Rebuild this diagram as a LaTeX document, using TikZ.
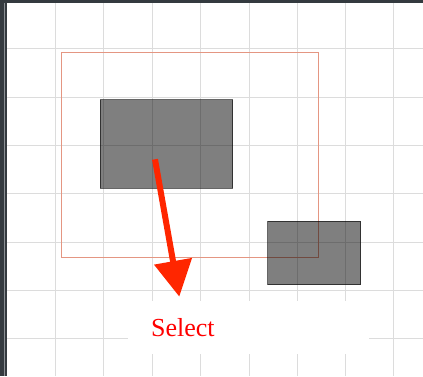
\documentclass[tikz,border=0pt]{standalone}
\usepackage{fontspec}
\setmainfont{Liberation Serif}
\usetikzlibrary{arrows.meta}
\definecolor{frameDark}{HTML}{343A3F}
\definecolor{frameMid}{HTML}{8A8F93}
\definecolor{gridGray}{HTML}{DCDCDC}
\definecolor{selRed}{RGB}{228,150,130}
\definecolor{arrowRed}{RGB}{255,38,0}
\tikzset{
  gridline/.style={draw=gridGray, line width=0.9pt},
  graybox/.style={draw=black, draw opacity=0.6, fill=black, fill opacity=0.5, line width=0.8pt, inner sep=0pt},
  selbox/.style={draw=selRed, line width=0.9pt, inner sep=0pt},
  bigarrow/.style={draw=arrowRed, line width=6pt, -{Triangle[length=36pt,width=37pt]}},
  label/.style={text=red, font=\fontsize{26}{31}\selectfont, inner sep=0pt}
}
\begin{document}
\begin{tikzpicture}[x=1pt,y=-1pt]
\useasboundingbox (0,0) rectangle (423,376);
\fill[white] (0,0) rectangle (423,376);
% grid
\foreach \gx in {55.3,103.7,152.7,200.7,249,297.7,345.7,393.7}
  \draw[gridline] (\gx,3) -- (\gx,376);
\foreach \gy in {48.3,97.3,145.7,193.7,242,290,338.3}
  \draw[gridline] (7,\gy) -- (423,\gy);
% white label backdrop
\fill[white] (128,301) rectangle (369,354);
% frame
\fill[frameDark] (0,0) rectangle (423,3.4);
\fill[frameDark] (0,0) rectangle (4.4,376);
\fill[frameMid] (4.4,3.4) rectangle (5.4,376);
\fill[frameDark] (5.4,3.4) rectangle (7,376);
% selection rectangle
\node[selbox, minimum width=256.6pt, minimum height=204.6pt] (sel) at (190,155) {};
% gray boxes
\node[graybox, minimum width=132.7pt, minimum height=88.3pt] (boxA) at (166.35,144) {};
\node[graybox, minimum width=93pt, minimum height=63.4pt] (boxB) at (314.2,253) {};
% arrow
\coordinate (arrStart) at (155,159.3);
\coordinate (arrEnd) at (179.3,296.7);
\draw[bigarrow] (arrStart) -- (arrEnd);
% label
\node[label, anchor=base] (lbl) at (182.9,336.7) {Select};
\end{tikzpicture}
\end{document}
